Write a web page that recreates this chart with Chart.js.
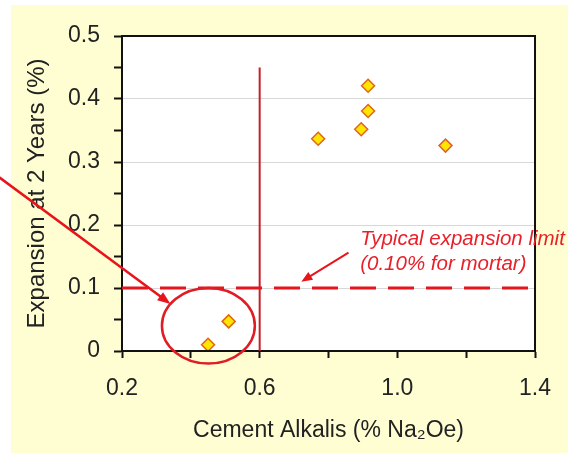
<!DOCTYPE html>
<html lang="en">
<head>
  <meta charset="UTF-8">
  <title>Expansion vs Cement Alkalis</title>
  <script src="https://cdn.jsdelivr.net/npm/chart.js"></script>
  <style>
    body { margin: 0; background: #fff; }
  </style>
</head>
<body>
  <canvas id="alkaliChart" width="568" height="453"></canvas>

  <script>
    // cement alkalis (% Na2Oe) and expansion at 2 years (%)
    const alkali = [0.45, 0.51, 0.77, 0.895, 0.915, 0.915, 1.14];
    const expansion = [0.01, 0.047, 0.337, 0.352, 0.381, 0.421, 0.326];

    const xLabels = [0.2, 0.6, 1.0, 1.4];
    const yLabels = [0, 0.1, 0.2, 0.3, 0.4, 0.5];

    const expansionLimit = 0.1;   // dashed limit line
    const alkaliLimit = 0.6;      // vertical line
    const alkaliLineTop = 0.45;
    const noteLines = ["Typical expansion limit", "(0.10% for mortar)"];

    const red = "#e8141c";

    function arrow(ctx, x1, y1, x2, y2, head, w) {
      const a = Math.atan2(y2 - y1, x2 - x1);
      ctx.beginPath();
      ctx.moveTo(x1, y1);
      ctx.lineTo(x2 - Math.cos(a) * head * 0.7, y2 - Math.sin(a) * head * 0.7);
      ctx.stroke();
      ctx.beginPath();
      ctx.moveTo(x2, y2);
      ctx.lineTo(x2 - Math.cos(a) * head + Math.sin(a) * w, y2 - Math.sin(a) * head - Math.cos(a) * w);
      ctx.lineTo(x2 - Math.cos(a) * head - Math.sin(a) * w, y2 - Math.sin(a) * head + Math.cos(a) * w);
      ctx.closePath();
      ctx.fill();
    }

    const background = {
      id: "background",
      beforeDraw(chart) {
        const { ctx, chartArea: a } = chart;
        ctx.save();
        ctx.fillStyle = "#fff";
        ctx.fillRect(0, 0, chart.width, chart.height);
        ctx.fillStyle = "#fffed2";
        ctx.fillRect(11, 5, chart.width - 11, chart.height - 5);
        ctx.fillStyle = "#fff";
        ctx.fillRect(a.left, a.top, a.right - a.left, a.bottom - a.top);
        ctx.restore();
      }
    };

    const notes = {
      id: "notes",
      afterDatasetsDraw(chart) {
        const { ctx, chartArea: a } = chart;
        const x = chart.scales.x, y = chart.scales.y;
        ctx.save();

        // plot frame
        ctx.strokeStyle = "#111";
        ctx.lineWidth = 2;
        ctx.strokeRect(a.left, a.top, a.right - a.left, a.bottom - a.top);

        // vertical line at 0.6
        ctx.strokeStyle = "#c81e28";
        ctx.lineWidth = 2;
        ctx.beginPath();
        ctx.moveTo(x.getPixelForValue(alkaliLimit), y.getPixelForValue(0));
        ctx.lineTo(x.getPixelForValue(alkaliLimit), y.getPixelForValue(alkaliLineTop));
        ctx.stroke();

        // dashed limit
        ctx.strokeStyle = red;
        ctx.lineWidth = 3;
        ctx.setLineDash([26, 12]);
        ctx.beginPath();
        ctx.moveTo(a.left, y.getPixelForValue(expansionLimit));
        ctx.lineTo(a.right, y.getPixelForValue(expansionLimit));
        ctx.stroke();
        ctx.setLineDash([]);

        // ellipse round the low points
        ctx.strokeStyle = "#e01c24";
        ctx.lineWidth = 2.5;
        const cx = x.getPixelForValue(0.451), cy = y.getPixelForValue(0.04);
        const rx = x.getPixelForValue(0.451 + 0.135) - cx;
        const ry = cy - y.getPixelForValue(0.04 + 0.06);
        ctx.beginPath();
        ctx.ellipse(cx, cy, rx, ry, 0, 0, Math.PI * 2);
        ctx.stroke();

        // arrows
        ctx.strokeStyle = red;
        ctx.fillStyle = red;
        ctx.lineWidth = 2.5;
        arrow(ctx, x.getPixelForValue(-0.16), y.getPixelForValue(0.277),
          x.getPixelForValue(0.341), y.getPixelForValue(0.0746), 13, 5);
        ctx.lineWidth = 2;
        arrow(ctx, x.getPixelForValue(0.858), y.getPixelForValue(0.156),
          x.getPixelForValue(0.721), y.getPixelForValue(0.11), 11, 4.5);

        // note text, over the frame
        ctx.fillStyle = "#e8202a";
        ctx.font = "italic 20.5px 'Liberation Sans', Arial, sans-serif";
        ctx.textBaseline = "alphabetic";
        ctx.textAlign = "left";
        ctx.fillText(noteLines[0], x.getPixelForValue(0.892), y.getPixelForValue(0.168));
        ctx.fillText(noteLines[1], x.getPixelForValue(0.892), y.getPixelForValue(0.129));
        ctx.restore();
      }
    };

    const font = { family: "'Liberation Sans', Arial, sans-serif", size: 23 };

    new Chart(document.getElementById("alkaliChart"), {
      type: "scatter",
      data: {
        datasets: [{
          label: "Mortar bars",
          data: alkali.map((v, i) => ({ x: v, y: expansion[i] })),
          pointStyle: "rectRot",
          pointRadius: 6.5,
          pointHoverRadius: 6.5,
          backgroundColor: "#ffe600",
          borderColor: "#e0641a",
          borderWidth: 1.5
        }]
      },
      options: {
        responsive: false,
        animation: false,
        layout: { padding: { left: 0, top: 36, right: 30, bottom: 0 } },
        plugins: {
          legend: { display: false },
          tooltip: { enabled: false }
        },
        scales: {
          x: {
            type: "linear",
            min: 0.2,
            max: 1.4,
            afterFit: s => { s.height = 102; },
            border: { color: "#111", width: 2 },
            grid: { drawOnChartArea: false, tickColor: "#111", tickLength: 7, tickWidth: 2 },
            ticks: {
              stepSize: 0.2,
              autoSkip: false,
              maxRotation: 0,
              padding: 17,
              color: "#222",
              font,
              callback: v => {
                const r = Math.round(v * 10) / 10;
                return xLabels.some(l => Math.abs(l - r) < 1e-6) ? r.toFixed(1) : "";
              }
            },
            title: {
              display: true,
              text: "Cement Alkalis (% Na₂Oe)",
              color: "#222",
              font: { family: font.family, size: 23 },
              padding: { top: 0, bottom: 9 }
            }
          },
          y: {
            min: 0,
            max: 0.5,
            afterFit: s => { s.width = 122; },
            border: { color: "#111", width: 2 },
            grid: {
              color: c => Math.round(c.tick.value * 100) % 10 === 0 ? "#d8d8d8" : "rgba(0,0,0,0)",
              tickColor: "#111",
              tickLength: 8,
              tickWidth: 2
            },
            ticks: {
              stepSize: 0.05,
              autoSkip: false,
              padding: 14,
              color: "#222",
              font,
              callback: v => {
                const r = Math.round(v * 10) / 10;
                if (!yLabels.some(l => Math.abs(l - v) < 1e-6)) return "";
                return r === 0 ? "0" : r.toFixed(1);
              }
            },
            title: {
              display: true,
              text: "Expansion at 2 Years (%)",
              color: "#222",
              font: { family: font.family, size: 24 },
              padding: { top: 23, bottom: 0 }
            }
          }
        }
      },
      plugins: [background, notes]
    });
  </script>
</body>
</html>
